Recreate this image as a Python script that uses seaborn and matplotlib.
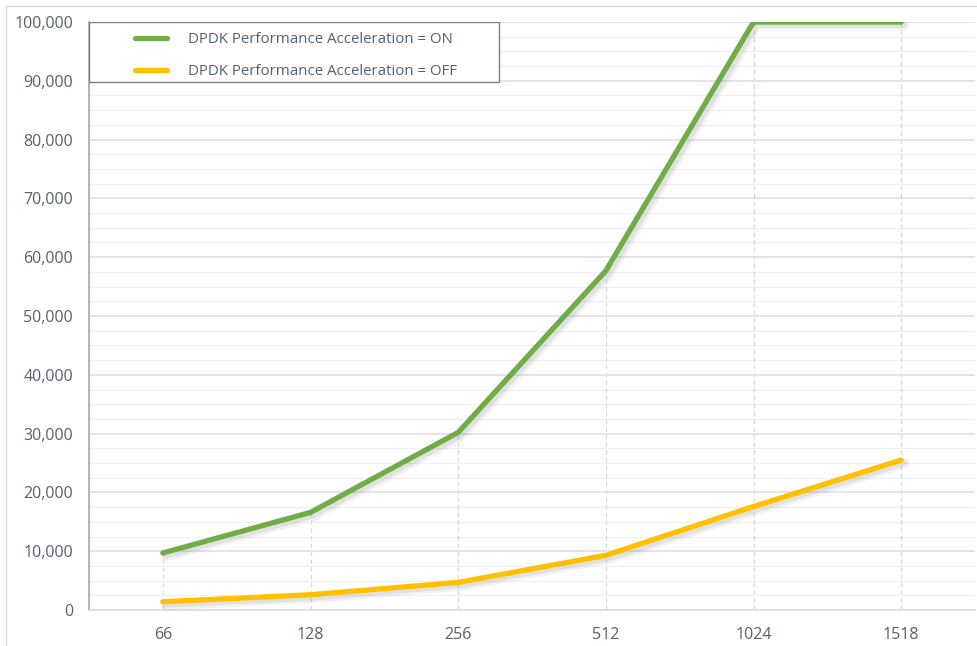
import matplotlib
matplotlib.use("Agg")
import matplotlib.pyplot as plt
import matplotlib.patheffects as pe
from matplotlib.patches import Rectangle
from matplotlib.lines import Line2D
from matplotlib.ticker import MultipleLocator, FuncFormatter
import seaborn as sns
import pandas as pd

packet_sizes = ["66", "128", "256", "512", "1024", "1518"]
accel_on = [9700, 16600, 30200, 57700, 100000, 100000]
accel_off = [1400, 2600, 4700, 9300, 17600, 25500]
series_names = ["DPDK Performance Acceleration = ON", "DPDK Performance Acceleration = OFF"]
colors = ["#70AD47", "#FFC000"]

df = pd.DataFrame({
    "size": packet_sizes * 2,
    "value": accel_on + accel_off,
    "series": [series_names[0]] * 6 + [series_names[1]] * 6,
})

sns.set_theme(style="white")
plt.rcParams['font.family'] = ['Open Sans', 'DejaVu Sans']
text_color = "#56606E"

W, H = 977, 646
fig = plt.figure(figsize=(W / 100, H / 100), dpi=100)
ax = fig.add_axes([89 / W, 1 - 610 / H, (975 - 89) / W, (610 - 22) / H])

# figure frame
fig.add_artist(Line2D([6 / W, 6 / W], [0, 1 - 6 / H], color="#D9D9D9", lw=1, transform=fig.transFigure))
fig.add_artist(Line2D([6 / W, 1], [1 - 6 / H, 1 - 6 / H], color="#D9D9D9", lw=1, transform=fig.transFigure))

sns.lineplot(data=df, x="size", y="value", hue="series", palette=colors, ax=ax,
             lw=3.8, legend=False, sort=False, zorder=5)
for line in ax.get_lines():
    line.set_solid_capstyle("round")
    line.set_path_effects([
        pe.SimpleLineShadow(offset=(2.5, -2.5), shadow_color="#808080", alpha=0.10, linewidth=7),
        pe.SimpleLineShadow(offset=(2, -2), shadow_color="#808080", alpha=0.15, linewidth=4.5),
        pe.Normal()])

# drop lines
for i, v in enumerate(accel_on):
    ax.vlines(i, 0, max(v, accel_off[i]), colors="#D5D8E0", linestyles=(0, (4, 3)), lw=0.8, zorder=1)

ax.set_xlim(-0.5, len(packet_sizes) - 0.5)
ax.set_ylim(0, 100000)
ax.yaxis.set_major_locator(MultipleLocator(10000))
ax.yaxis.set_minor_locator(MultipleLocator(2500))
ax.yaxis.set_major_formatter(FuncFormatter(lambda v, p: f"{int(v):,}"))
ax.grid(axis="y", which="major", color="#D9DEE6", lw=1.1, zorder=0)
ax.grid(axis="y", which="minor", color="#F0F0F2", lw=0.8, zorder=0)
ax.set_axisbelow(True)

for s in ["top", "right"]:
    ax.spines[s].set_visible(False)
ax.spines["left"].set_color("#A6A6A6")
ax.spines["left"].set_linewidth(1.2)
ax.spines["bottom"].set_color("#D9D9D9")
ax.spines["bottom"].set_linewidth(1.2)

ax.tick_params(axis="y", which="major", length=0, pad=11.5, labelsize=11.5, labelcolor=text_color)
ax.tick_params(axis="y", which="minor", direction="in", length=3, color="#A6A6A6", width=0.8)
ax.tick_params(axis="x", length=0, pad=12, labelsize=11.5, labelcolor=text_color)
ax.set_xlabel("")
ax.set_ylabel("")

# legend box
ax.add_patch(Rectangle((0, 1 - 60 / 588), 410 / 886, 60 / 588, transform=ax.transAxes,
                       facecolor="white", edgecolor="#7F7F7F", lw=1, zorder=8))
handles = [Line2D([], [], color=c, lw=3.8, solid_capstyle="round") for c in colors]
leg = ax.legend(handles, series_names, loc="upper left",
                bbox_to_anchor=((135 - 89) / 886, 1 - 10 / 588), frameon=False,
                borderpad=0, borderaxespad=0, handlelength=2.1, handletextpad=1.4,
                labelspacing=1.12, fontsize=10.8, labelcolor=text_color)
leg.set_zorder(9)

fig.savefig("out.png", dpi=100, facecolor="white")
